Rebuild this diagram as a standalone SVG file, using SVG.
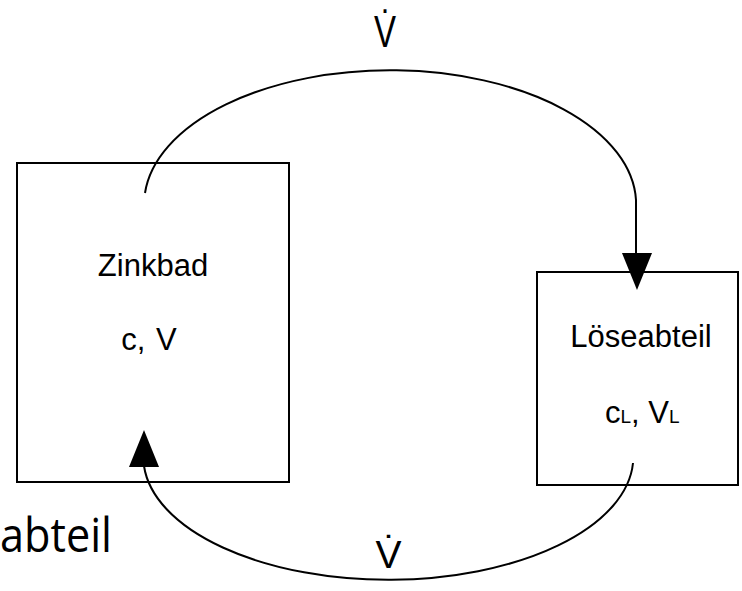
<svg xmlns="http://www.w3.org/2000/svg" width="742" height="591" viewBox="0 0 742 591">
  <style>
    .box { fill: none; stroke: #000; stroke-width: 2; }
    .flow { fill: none; stroke: #000; stroke-width: 2; }
    .head { fill: #000; stroke: none; }
    .lbl { font-family: "Liberation Sans", Arial, Helvetica, sans-serif; fill: #000; }
    .big { font-family: "Open Sans", "Noto Sans", sans-serif; fill: #000; }
  </style>
  <rect width="742" height="591" fill="#fff"/>

  <!-- caption fragment at lower left -->
  <text class="big" x="0" y="552" font-size="47" textLength="112" lengthAdjust="spacingAndGlyphs">abteil</text>

  <g id="zinkbad">
    <rect class="box" x="17" y="163" width="272" height="319"/>
    <text class="lbl" x="153" y="276" font-size="31" text-anchor="middle">Zinkbad</text>
    <text class="lbl" x="149" y="350" font-size="31" text-anchor="middle" word-spacing="2">c, V</text>
  </g>

  <g id="loeseabteil">
    <rect class="box" x="537" y="272" width="201" height="213"/>
    <text class="lbl" x="641" y="347" font-size="31" text-anchor="middle">Löseabteil</text>
    <text class="lbl" x="605" y="423" font-size="31">c<tspan font-size="19">L</tspan>, V<tspan font-size="19">L</tspan></text>
  </g>

  <g id="connectors">
    <!-- Zinkbad to Löseabteil -->
    <path class="flow" d="M145,193 A246,134 0 0 1 636,200 L636,256"/>
    <polygon class="head" points="622,253 652,253 637,290"/>
    <text class="lbl" font-size="44" text-anchor="middle" transform="translate(385,47) scale(0.75,1)">V̇</text>
    <!-- Löseabteil back to Zinkbad -->
    <path class="flow" d="M633,463 A245,123 0 0 1 144,466"/>
    <polygon class="head" points="129,467 159,467 144,430"/>
    <text class="lbl" x="388.5" y="568" font-size="39" text-anchor="middle">V̇</text>
  </g>
</svg>
